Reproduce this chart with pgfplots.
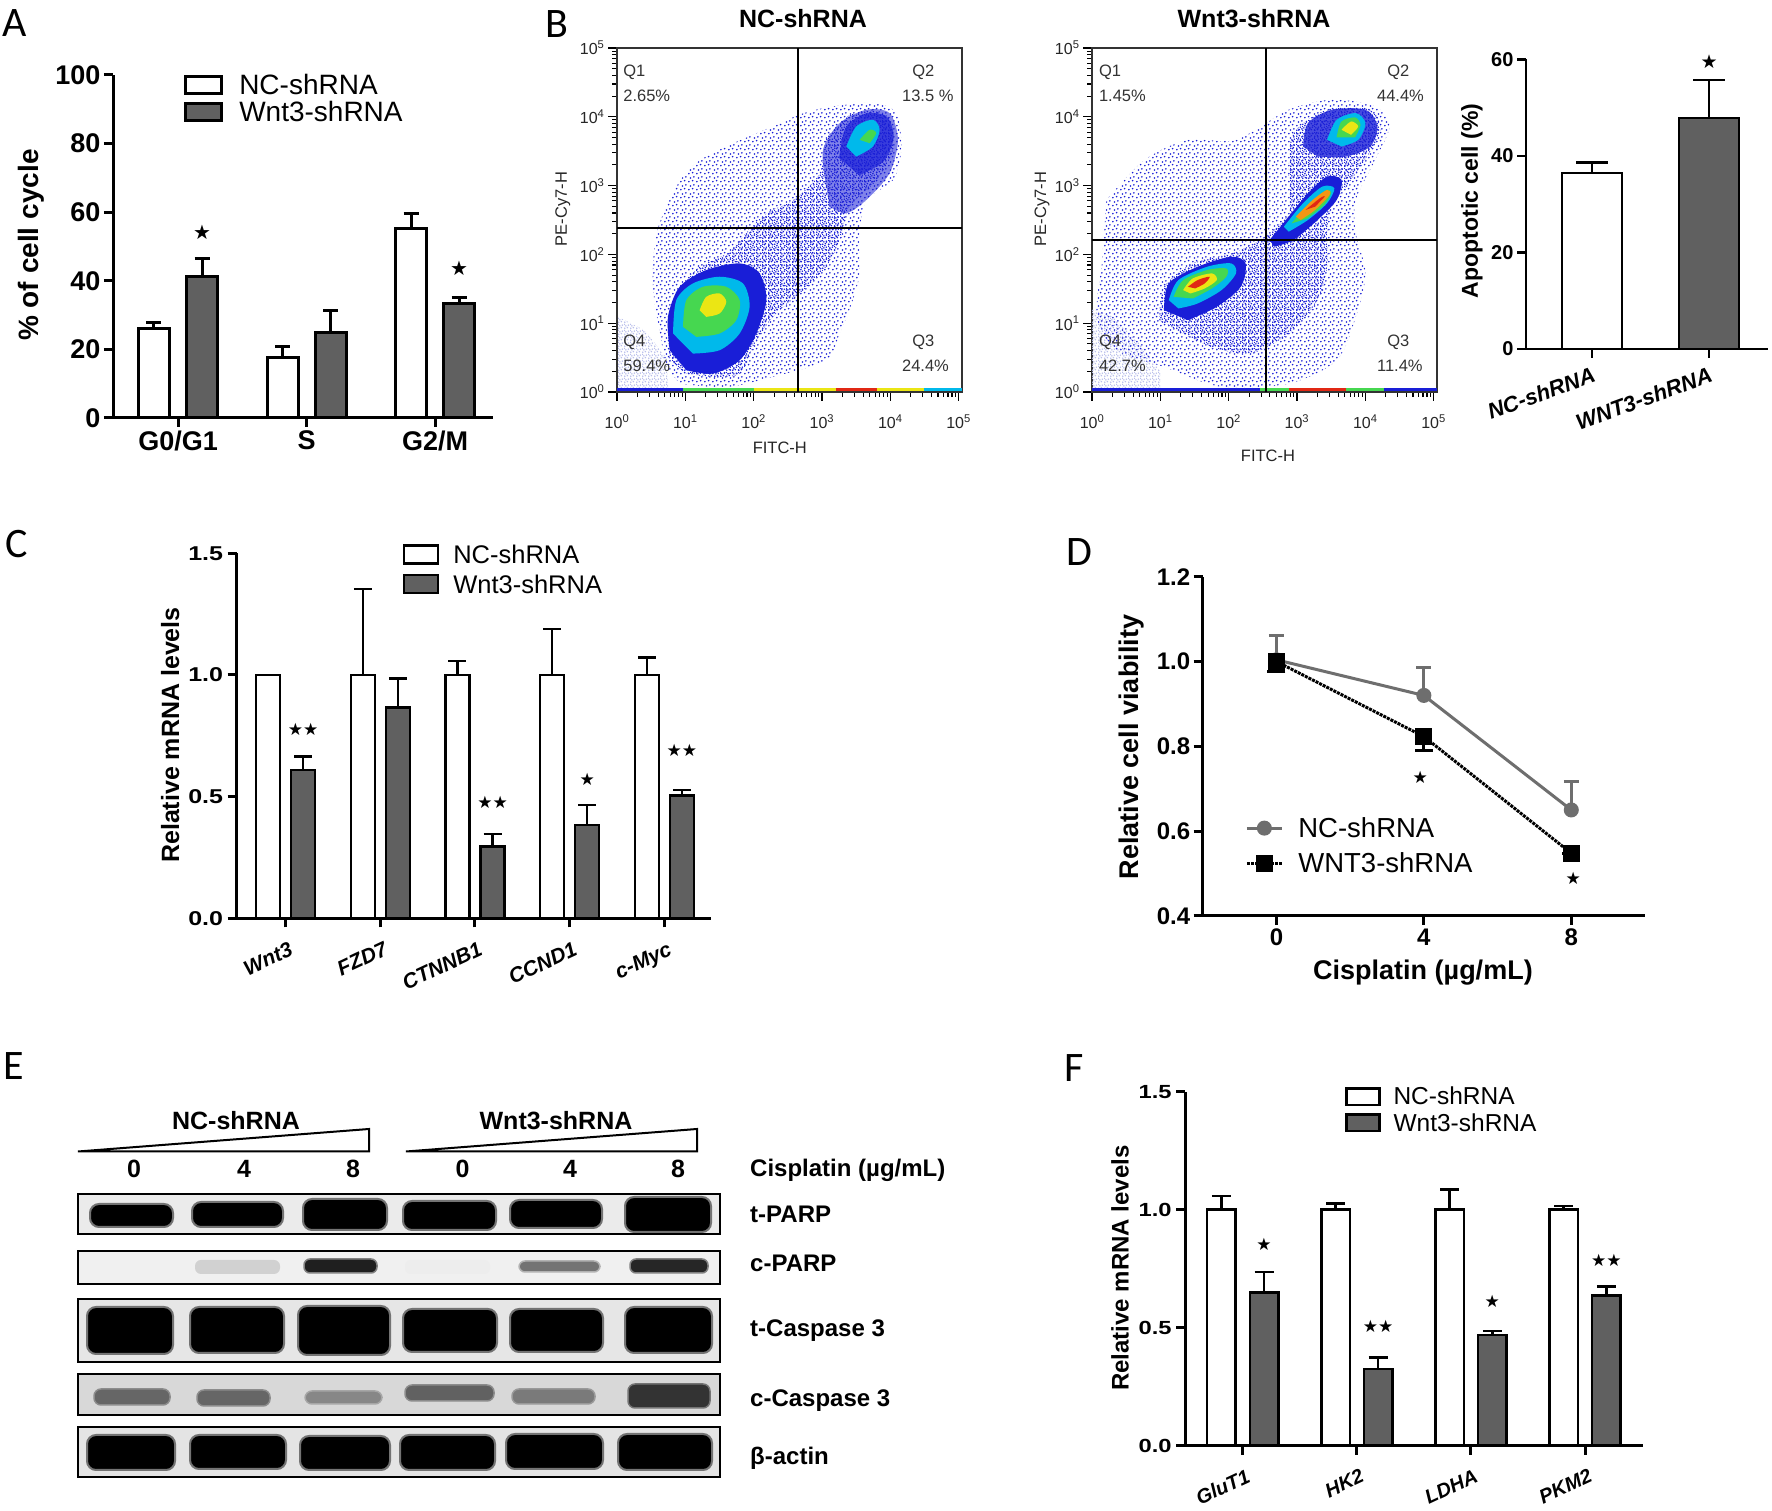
\documentclass[border=0pt]{standalone}
\usepackage{fontspec}
\setmainfont{Liberation Sans}
\newfontfamily\calib{Carlito}
\newfontfamily\djv{DejaVu Sans}
\usepackage{pgfplots}
\pgfplotsset{compat=1.18}
\usetikzlibrary{patterns,patterns.meta}
\newcommand\fs[1]{\fontsize{#1}{#1}\selectfont}
\definecolor{kd}{RGB}{96,96,96}
\definecolor{dgray}{RGB}{110,110,110}
\definecolor{fblue}{RGB}{25,30,215}
\definecolor{fcyan}{RGB}{0,185,235}
\definecolor{fgreen}{RGB}{70,215,80}
\definecolor{fyellow}{RGB}{235,230,20}
\definecolor{fred}{RGB}{225,40,20}
\definecolor{forange}{RGB}{245,150,20}
\definecolor{flav}{RGB}{185,190,235}
\definecolor{bgA}{RGB}{235,235,235}
\definecolor{bgB}{RGB}{240,240,240}
\definecolor{bgC}{RGB}{230,230,230}
\definecolor{bgD}{RGB}{216,216,216}
\definecolor{bgE}{RGB}{228,228,228}
\tikzdeclarepattern{name=scat, type=uncolored,
  bounding box={(0pt,0pt) and (8pt,8pt)}, tile size={(8pt,8pt)},
  code={\fill (1pt,1.5pt) circle (1pt); \fill (5.2pt,2.6pt) circle (1pt);
        \fill (2.8pt,5.6pt) circle (1pt); \fill (6.6pt,6.8pt) circle (1pt);}}
\tikzdeclarepattern{name=scatm, type=uncolored,
  bounding box={(0pt,0pt) and (6pt,6pt)}, tile size={(6pt,6pt)},
  code={\fill (0.9pt,0.9pt) circle (0.95pt); \fill (3.9pt,1.6pt) circle (0.95pt);
        \fill (2.2pt,3.6pt) circle (0.95pt); \fill (5.0pt,4.4pt) circle (0.95pt);
        \fill (0.6pt,5.3pt) circle (0.8pt);}}
\tikzset{qlab/.style={anchor=north west, inner sep=0pt, font=\fs{16.5}, text=black!80}}
\pgfplotsset{
  /pgf/number format/assume math mode=true,
  prism/.style={scale only axis, anchor=south west, axis lines*=left, clip=false,
    axis line style={line width=#1, black},
    tick align=outside, major tick length=9pt,
    every tick/.style={line width=#1, black},
    every axis plot/.append style={line width=#1}},
  errp/.style 2 args={error bars/.cd, y dir=plus, y explicit,
    error bar style={line width=#1, black},
    error mark options={rotate=90, line width=#1, mark size=#2, black}},
  onestar/.style={only marks, mark=text, text mark as node=true, text mark={\djv ★}, text mark style={font=\fs{#1}, inner sep=0pt}},
  twostar/.style={only marks, mark=text, text mark as node=true, text mark={\djv ★★}, text mark style={font=\fs{#1}, inner sep=0pt}},
  flow/.style={scale only axis, anchor=south west, width=345pt, height=344pt,
    xmin=0, xmax=5.05, ymin=0, ymax=5,
    axis line style={line width=1.6pt, black!80},
    tick align=outside, tick pos=left, major tick length=9pt, minor tick length=5pt,
    every tick/.style={black, line width=1.1pt},
    xtick={0,1,2,3,4,5}, ytick={0,1,2,3,4,5},
    xticklabels={10\textsuperscript{0},10\textsuperscript{1},10\textsuperscript{2},10\textsuperscript{3},10\textsuperscript{4},10\textsuperscript{5}},
    yticklabels={10\textsuperscript{0},10\textsuperscript{1},10\textsuperscript{2},10\textsuperscript{3},10\textsuperscript{4},10\textsuperscript{5}},
    minor xtick={0.301,0.477,0.602,0.699,0.778,0.845,0.903,0.954,1.301,1.477,1.602,1.699,1.778,1.845,1.903,1.954,2.301,2.477,2.602,2.699,2.778,2.845,2.903,2.954,3.301,3.477,3.602,3.699,3.778,3.845,3.903,3.954,4.301,4.477,4.602,4.699,4.778,4.845,4.903,4.954},
    minor ytick={0.301,0.477,0.602,0.699,0.778,0.845,0.903,0.954,1.301,1.477,1.602,1.699,1.778,1.845,1.903,1.954,2.301,2.477,2.602,2.699,2.778,2.845,2.903,2.954,3.301,3.477,3.602,3.699,3.778,3.845,3.903,3.954,4.301,4.477,4.602,4.699,4.778,4.845,4.903,4.954},
    tick label style={font=\fs{16}, text=black!85},
    xticklabel style={yshift=-10pt},
    label style={font=\fs{16.5}, text=black!85},
    xlabel={FITC-H}, ylabel={PE-Cy7-H}},
  sparse/.style={draw=none, pattern=scat, pattern color=fblue, smooth},
  medium/.style={draw=none, pattern=scatm, pattern color=fblue, smooth},
  dense/.style={draw=none, fill=#1, smooth},
  band/.style={draw=black!55, line width=2pt, fill=#1, rounded corners=9pt},
}
\begin{document}
\begin{tikzpicture}
\useasboundingbox (0pt,0pt) rectangle (1772pt,1511pt);
\fill[white] (0pt,0pt) rectangle (1772pt,1511pt);

% ---------------- Panel A ----------------
\begin{axis}[prism=3pt, at={(113pt,1093pt)}, width=380pt, height=343pt,
  xmin=-0.506, xmax=2.451, ymin=0, ymax=100,
  xtick={0,1,2}, xticklabels={G0/G1,S,G2/M}, ytick={0,20,40,60,80,100},
  tick label style={font=\fs{27}\bfseries},
  ylabel={\% of cell cycle},
  ylabel style={font=\fs{28}\bfseries, at={(axis description cs:-0.216,0.504)}, anchor=center},
  legend style={at={(axis description cs:0.187,1.009)}, anchor=north west, draw=none, fill=none,
    font=\fs{28}, inner sep=0pt, row sep=1pt}, legend cell align=left]
\addplot[ybar, bar width=31pt, bar shift=0pt, draw=black, fill=white, line width=3pt,
  legend image code/.code={\draw[black, fill=white, line width=3pt] (0pt,-9pt) rectangle (36pt,8pt); \path (50pt,0pt);},
  errp={3pt}{7.5pt}]
  coordinates {(-0.187,26.0) +- (0,1.8) (0.813,17.7) +- (0,3.1) (1.813,55.3) +- (0,4.4)};
\addlegendentry{NC-shRNA}
\addplot[ybar, bar width=31pt, bar shift=0pt, draw=black, fill=kd, line width=3pt,
  legend image code/.code={\draw[black, fill=kd, line width=3pt] (0pt,-9pt) rectangle (36pt,8pt); \path (50pt,0pt);},
  errp={3pt}{7.5pt}]
  coordinates {(0.187,41.2) +- (0,5.2) (1.187,24.9) +- (0,6.3) (2.187,33.4) +- (0,1.7)};
\addlegendentry{Wnt3-shRNA}
\addplot[onestar=20] coordinates {(0.187,54) (2.187,43.5)};
\end{axis}

% ---------------- Panel B: NC flow ----------------
\begin{axis}[flow, at={(617pt,1119pt)},
  xlabel style={at={(axis description cs:0.472,-0.163)}, anchor=center},
  ylabel style={at={(axis description cs:-0.157,0.532)}, anchor=center}]
\addplot[draw=none, pattern=scatm, pattern color=flav] coordinates {(0,0.05) (0,1.1) (0.4,0.9) (0.72,0.5) (0.75,0.05)} --cycle;
\addplot[sparse] coordinates {(0.72,0.36) (0.53,1.48) (0.58,2.31) (0.87,2.99) (1.16,3.33) (1.60,3.57) (2.28,3.86) (2.72,4.05) (3.16,4.15) (3.75,4.20) (4.09,4.05) (4.16,3.52) (4.04,3.08) (3.65,2.79) (3.55,2.31) (3.55,1.72) (3.45,1.33) (3.26,0.85) (3.06,0.46) (2.28,0.22) (1.60,0.07) (0.92,0.12)} --cycle;
\addplot[medium] coordinates {(0.77,0.46) (0.75,1.09) (0.92,1.48) (1.21,1.82) (1.60,2.01) (1.89,2.31) (2.19,2.60) (2.58,2.79) (2.97,3.18) (3.06,3.67) (3.36,4.00) (3.75,4.10) (3.99,3.96) (4.04,3.52) (3.80,3.08) (3.40,2.69) (3.26,2.21) (3.06,1.82) (2.67,1.43) (2.28,1.09) (1.99,0.66) (1.80,0.27) (1.40,0.22) (1.01,0.27)} --cycle;
\addplot[dense=fblue] coordinates {(0.771,0.607) (0.746,1.092) (0.917,1.529) (1.307,1.772) (1.795,1.869) (2.088,1.723) (2.185,1.335) (2.039,0.850) (1.795,0.461) (1.405,0.267) (1.015,0.316)} --cycle;
\addplot[dense=fblue, fill opacity=0.55] coordinates {(3.063,2.985) (3.015,3.519) (3.259,3.908) (3.649,4.102) (3.990,4.053) (4.112,3.665) (3.990,3.180) (3.649,2.791) (3.356,2.597) (3.112,2.694)} --cycle;
\addplot[dense=fblue, fill opacity=0.7] coordinates {(3.25,3.40) (3.35,3.85) (3.65,4.05) (3.95,4.00) (4.05,3.70) (3.90,3.35) (3.55,3.15)} --cycle;
\addplot[dense=fcyan] coordinates {(0.820,0.850) (0.868,1.335) (1.112,1.578) (1.502,1.675) (1.844,1.578) (1.941,1.238) (1.795,0.850) (1.502,0.607) (1.112,0.558)} --cycle;
\addplot[dense=fcyan] coordinates {(3.356,3.568) (3.502,3.859) (3.746,3.956) (3.844,3.811) (3.746,3.568) (3.502,3.422)} --cycle;
\addplot[dense=fgreen] coordinates {(0.966,0.947) (1.015,1.335) (1.259,1.529) (1.600,1.529) (1.795,1.335) (1.746,1.044) (1.502,0.850) (1.161,0.801)} --cycle;
\addplot[dense=fgreen] coordinates {(3.551,3.665) (3.698,3.811) (3.795,3.762) (3.698,3.616)} --cycle;
\addplot[dense=fyellow] coordinates {(1.210,1.189) (1.307,1.383) (1.502,1.432) (1.600,1.311) (1.502,1.141) (1.307,1.092)} --cycle;
\addplot[line width=3pt, fblue] coordinates {(0,0.03) (0.97,0.03)};
\addplot[line width=3pt, fgreen] coordinates {(0.97,0.03) (2.0,0.03)};
\addplot[line width=3pt, fyellow] coordinates {(2.0,0.03) (3.2,0.03)};
\addplot[line width=3pt, fred] coordinates {(3.2,0.03) (3.8,0.03)};
\addplot[line width=3pt, fyellow] coordinates {(3.8,0.03) (4.5,0.03)};
\addplot[line width=3pt, fcyan] coordinates {(4.5,0.03) (5.05,0.03)};
\addplot[black, line width=2pt] coordinates {(2.65,0) (2.65,5)};
\addplot[black, line width=2pt] coordinates {(0,2.38) (5.05,2.38)};
\node[qlab] at (axis cs:0.09,4.75) {Q1};
\node[qlab] at (axis cs:0.09,4.39) {2.65\%};
\node[qlab] at (axis cs:4.32,4.75) {Q2};
\node[qlab] at (axis cs:4.17,4.39) {13.5 \%};
\node[qlab] at (axis cs:0.09,0.83) {Q4};
\node[qlab] at (axis cs:0.09,0.465) {59.4\%};
\node[qlab] at (axis cs:4.32,0.83) {Q3};
\node[qlab] at (axis cs:4.17,0.465) {24.4\%};
\end{axis}

% ---------------- Panel B: Wnt3 flow ----------------
\begin{axis}[flow, at={(1092pt,1119pt)},
  xlabel style={at={(axis description cs:0.51,-0.186)}, anchor=center},
  ylabel style={at={(axis description cs:-0.145,0.532)}, anchor=center}]
\addplot[draw=none, pattern=scatm, pattern color=flav] coordinates {(0,0.05) (0,1.2) (0.3,1.1) (0.7,0.7) (1.0,0.3) (1.0,0.05)} --cycle;
\addplot[sparse] coordinates {(0.211,2.791) (0.772,3.374) (1.404,3.665) (2.107,3.665) (2.879,4.102) (3.511,4.248) (4.143,4.150) (4.354,3.859) (4.143,3.374) (3.862,2.791) (3.862,2.306) (4.003,1.723) (3.862,1.092) (3.581,0.461) (2.879,0.121) (1.896,0.073) (1.053,0.364) (0.351,0.607) (0.070,1.092) (0.140,1.820)} --cycle;
\addplot[medium] coordinates {(0.983,1.044) (1.053,1.529) (1.475,1.869) (2.037,2.015) (2.458,2.209) (2.879,2.597) (2.879,3.180) (2.949,3.762) (3.441,4.102) (4.073,4.102) (4.213,3.762) (3.862,3.180) (3.511,2.694) (3.441,2.306) (3.441,1.820) (3.301,1.335) (2.879,0.850) (2.317,0.558) (1.756,0.655) (1.334,0.850)} --cycle;
\addplot[dense=fblue] coordinates {(1.053,1.189) (1.124,1.578) (1.545,1.820) (2.037,1.966) (2.247,1.869) (2.177,1.529) (1.826,1.238) (1.404,1.044)} --cycle;
\addplot[dense=fblue] coordinates {(2.598,2.209) (2.879,2.549) (3.160,2.888) (3.441,3.131) (3.652,3.083) (3.581,2.791) (3.301,2.500) (2.949,2.209) (2.669,2.112)} --cycle;
\addplot[dense=fblue, fill opacity=0.8] coordinates {(3.090,3.568) (3.160,3.908) (3.511,4.102) (4.003,4.102) (4.178,3.859) (4.073,3.568) (3.722,3.422) (3.301,3.422)} --cycle;
\addplot[dense=fcyan] coordinates {(1.124,1.335) (1.264,1.626) (1.685,1.820) (2.037,1.869) (2.107,1.723) (1.896,1.481) (1.545,1.286) (1.264,1.214)} --cycle;
\addplot[dense=fcyan] coordinates {(2.809,2.403) (3.090,2.743) (3.371,2.985) (3.547,2.961) (3.441,2.743) (3.160,2.500) (2.879,2.330)} --cycle;
\addplot[dense=fcyan] coordinates {(3.441,3.665) (3.581,3.956) (3.862,4.053) (4.003,3.908) (3.897,3.665) (3.652,3.568)} --cycle;
\addplot[dense=fgreen] coordinates {(1.194,1.383) (1.334,1.626) (1.685,1.772) (1.966,1.796) (1.966,1.675) (1.756,1.505) (1.475,1.359)} --cycle;
\addplot[dense=fgreen] coordinates {(2.920,2.450) (3.160,2.720) (3.420,2.930) (3.500,2.900) (3.400,2.720) (3.150,2.520)} --cycle;
\addplot[dense=fgreen] coordinates {(3.580,3.700) (3.650,3.930) (3.850,3.990) (3.930,3.880) (3.850,3.700)} --cycle;
\addplot[dense=fyellow] coordinates {(1.334,1.481) (1.475,1.650) (1.756,1.723) (1.826,1.626) (1.650,1.505) (1.440,1.432)} --cycle;
\addplot[dense=forange] coordinates {(2.984,2.549) (3.230,2.791) (3.441,2.937) (3.477,2.864) (3.266,2.646) (3.055,2.500)} --cycle;
\addplot[dense=fyellow] coordinates {(3.652,3.811) (3.792,3.932) (3.897,3.859) (3.792,3.738)} --cycle;
\addplot[dense=fred] coordinates {(1.404,1.529) (1.545,1.626) (1.721,1.675) (1.650,1.578) (1.510,1.505)} --cycle;
\addplot[dense=fred] coordinates {(3.125,2.646) (3.336,2.816) (3.406,2.840) (3.266,2.694)} --cycle;
\addplot[line width=3pt, fblue] coordinates {(0,0.03) (2.46,0.03)};
\addplot[line width=3pt, fgreen] coordinates {(2.46,0.03) (2.88,0.03)};
\addplot[line width=3pt, fred] coordinates {(2.88,0.03) (3.72,0.03)};
\addplot[line width=3pt, fgreen] coordinates {(3.72,0.03) (4.28,0.03)};
\addplot[line width=3pt, fblue] coordinates {(4.28,0.03) (5.05,0.03)};
\addplot[black, line width=2pt] coordinates {(2.54,0) (2.54,5)};
\addplot[black, line width=2pt] coordinates {(0,2.21) (5.05,2.21)};
\node[qlab] at (axis cs:0.10,4.75) {Q1};
\node[qlab] at (axis cs:0.10,4.39) {1.45\%};
\node[qlab] at (axis cs:4.32,4.75) {Q2};
\node[qlab] at (axis cs:4.17,4.39) {44.4\%};
\node[qlab] at (axis cs:0.10,0.83) {Q4};
\node[qlab] at (axis cs:0.10,0.465) {42.7\%};
\node[qlab] at (axis cs:4.32,0.83) {Q3};
\node[qlab] at (axis cs:4.17,0.465) {11.4\%};
\end{axis}

% ---------------- Panel B: apoptotic bars ----------------
\begin{axis}[prism=2.5pt, at={(1526pt,1162pt)}, width=242pt, height=289.7pt,
  xmin=-0.564, xmax=1.504, ymin=0, ymax=60, ytick={0,20,40,60},
  xtick={0,1}, xticklabels={NC-shRNA,WNT3-shRNA},
  yticklabel style={font=\fs{20}\bfseries},
  xticklabel style={font=\fs{22}\bfseries\itshape, rotate=20, anchor=north east, yshift=-4pt},
  ylabel={Apoptotic cell (\%)},
  ylabel style={font=\fs{23}\bfseries, at={(axis description cs:-0.223,0.511)}, anchor=center}]
\addplot[ybar, bar width=60pt, bar shift=0pt, draw=black, fill=white, line width=2.5pt, errp={2.5pt}{16pt}]
  coordinates {(0,36.4) +- (0,2.2)};
\addplot[ybar, bar width=60pt, bar shift=0pt, draw=black, fill=kd, line width=2.5pt, errp={2.5pt}{16pt}]
  coordinates {(1,47.8) +- (0,7.9)};
\addplot[onestar=19] coordinates {(1,59.6)};
\end{axis}

% ---------------- Panel C ----------------
\begin{axis}[prism=3pt, at={(236.5pt,592.7pt)}, width=474.5pt, height=365pt,
  xmin=-0.518, xmax=4.492, ymin=0, ymax=1.5, ytick={0,0.5,1,1.5},
  yticklabel style={/pgf/number format/fixed, /pgf/number format/fixed zerofill, /pgf/number format/precision=1, font=\fs{20}\bfseries, xscale=1.25},
  xtick={0,1,2,3,4}, xticklabels={Wnt3,FZD7,CTNNB1,CCND1,c-Myc},
  xticklabel style={font=\fs{21}\bfseries\itshape, rotate=25, anchor=north east, yshift=-10pt},
  ylabel={Relative mRNA levels},
  ylabel style={font=\fs{25}\bfseries, at={(axis description cs:-0.140,0.502)}, anchor=center},
  legend style={at={(axis description cs:0.35,1.028)}, anchor=north west, draw=none, fill=none,
    font=\fs{25.5}, inner sep=0pt, row sep=6pt}, legend cell align=left]
\addplot[ybar, bar width=24pt, bar shift=0pt, draw=black, fill=white, line width=2.5pt,
  legend image code/.code={\draw[black, fill=white, line width=2.5pt] (0pt,-8pt) rectangle (34pt,10pt); \path (46pt,0pt);},
  errp={2.5pt}{9pt}]
  coordinates {(-0.185,1.0) +- (0,0) (0.815,1.0) +- (0,0.353) (1.815,1.0) +- (0,0.058) (2.815,1.0) +- (0,0.188) (3.815,1.0) +- (0,0.071)};
\addlegendentry{NC-shRNA}
\addplot[ybar, bar width=24pt, bar shift=0pt, draw=black, fill=kd, line width=2.5pt,
  legend image code/.code={\draw[black, fill=kd, line width=2.5pt] (0pt,-8pt) rectangle (34pt,10pt); \path (46pt,0pt);},
  errp={2.5pt}{9pt}]
  coordinates {(0.185,0.61) +- (0,0.054) (1.185,0.867) +- (0,0.118) (2.185,0.294) +- (0,0.052) (3.185,0.383) +- (0,0.083) (4.185,0.504) +- (0,0.023)};
\addlegendentry{Wnt3-shRNA}
\addplot[twostar=17] coordinates {(0.185,0.777) (2.185,0.475) (4.185,0.689)};
\addplot[onestar=17] coordinates {(3.185,0.571)};
\end{axis}

% ---------------- Panel D ----------------
\begin{axis}[prism=3pt, at={(1202.7pt,595pt)}, width=442.3pt, height=339.3pt,
  xmin=-2, xmax=10, ymin=0.4, ymax=1.2, xtick={0,4,8}, ytick={0.4,0.6,0.8,1.0,1.2},
  yticklabel style={/pgf/number format/fixed, /pgf/number format/fixed zerofill, /pgf/number format/precision=1},
  tick label style={font=\fs{24}\bfseries},
  xlabel={Cisplatin (µg/mL)},
  xlabel style={font=\fs{27}\bfseries, at={(axis description cs:0.498,-0.168)}, anchor=center},
  ylabel={Relative cell viability},
  ylabel style={font=\fs{27}\bfseries, at={(axis description cs:-0.162,0.498)}, anchor=center},
  legend image code/.code={\draw[mark repeat=2, mark phase=2, #1] plot coordinates {(0pt,0pt) (17.5pt,0pt) (35pt,0pt)}; \path (48pt,0pt);},
  legend style={at={(axis description cs:0.096,0.297)}, anchor=north west, draw=none, fill=none,
    font=\fs{27.5}, inner sep=0pt, row sep=9.5pt}, legend cell align=left]
\addplot[color=dgray, line width=3pt, mark=*, mark size=6pt, mark options={solid, fill=dgray},
  error bars/.cd, y dir=plus, y explicit, error bar style={line width=3pt, dgray},
  error mark options={rotate=90, line width=3pt, mark size=7.5pt, dgray}]
  coordinates {(0,1.004) +- (0,0.057) (4,0.92) +- (0,0.067) (8,0.65) +- (0,0.067)};
\addlegendentry{NC-shRNA}
\addplot[color=black, line width=3pt, densely dotted, mark=square*, mark size=7pt, mark options={solid, fill=black},
  error bars/.cd, y dir=minus, y explicit, error bar style={line width=3pt, black, solid},
  error mark options={rotate=90, line width=3pt, mark size=9pt, black, solid}]
  coordinates {(0,1.0) +- (0,0.024) (4,0.823) +- (0,0.032) (8,0.548) +- (0,0.0)};
\addlegendentry{WNT3-shRNA}
\addplot[onestar=17] coordinates {(3.9,0.727) (8.05,0.489)};
\end{axis}

% ---------------- Panel E (western blot) ----------------
\begin{axis}[hide axis, scale only axis, anchor=south west, at={(78pt,34pt)}, width=642pt, height=283pt,
  xmin=78, xmax=720, ymin=1194, ymax=1477, y dir=reverse, clip=false]
\addplot[draw=black, line width=2pt, fill=white] coordinates {(78,1151.5) (369,1129) (369,1151.5)} --cycle;
\addplot[draw=black, line width=2pt, fill=white] coordinates {(406,1151.5) (697,1129) (697,1151.5)} --cycle;
\addplot[draw=black, line width=2.5pt, fill=bgA] coordinates {(78,1194) (720,1194) (720,1234) (78,1234)} --cycle;
\addplot[draw=black, line width=2.5pt, fill=bgB] coordinates {(78,1251) (720,1251) (720,1284) (78,1284)} --cycle;
\addplot[draw=black, line width=2.5pt, fill=bgC] coordinates {(78,1299) (720,1299) (720,1362) (78,1362)} --cycle;
\addplot[draw=black, line width=2.5pt, fill=bgD] coordinates {(78,1374) (720,1374) (720,1415) (78,1415)} --cycle;
\addplot[draw=black, line width=2.5pt, fill=bgE] coordinates {(78,1427) (720,1427) (720,1477) (78,1477)} --cycle;
\addplot[band=black] coordinates {(90,1204) (173,1204) (173,1227) (90,1227)} --cycle;
\addplot[band=black] coordinates {(192,1202) (283,1202) (283,1227) (192,1227)} --cycle;
\addplot[band=black] coordinates {(303,1199) (387,1199) (387,1230) (303,1230)} --cycle;
\addplot[band=black] coordinates {(403,1201) (496,1201) (496,1230) (403,1230)} --cycle;
\addplot[band=black] coordinates {(510,1200) (602,1200) (602,1228) (510,1228)} --cycle;
\addplot[band=black] coordinates {(625,1197) (711,1197) (711,1232) (625,1232)} --cycle;
\addplot[draw=none, fill=black!6, rounded corners=6pt] coordinates {(95,1260) (170,1260) (170,1274) (95,1274)} --cycle;
\addplot[draw=none, fill=black!18, rounded corners=6pt] coordinates {(195,1260) (280,1260) (280,1274) (195,1274)} --cycle;
\addplot[draw=black!50, line width=1.5pt, fill=black!88, rounded corners=6pt] coordinates {(304,1259) (377,1259) (377,1273) (304,1273)} --cycle;
\addplot[draw=none, fill=black!7, rounded corners=6pt] coordinates {(405,1260) (490,1260) (490,1274) (405,1274)} --cycle;
\addplot[draw=black!30, line width=1.5pt, fill=black!55, rounded corners=6pt] coordinates {(519,1261) (600,1261) (600,1272) (519,1272)} --cycle;
\addplot[draw=black!50, line width=1.5pt, fill=black!85, rounded corners=6pt] coordinates {(630,1259) (708,1259) (708,1273) (630,1273)} --cycle;
\addplot[band=black] coordinates {(87,1307) (173,1307) (173,1354) (87,1354)} --cycle;
\addplot[band=black] coordinates {(190,1307) (284,1307) (284,1353) (190,1353)} --cycle;
\addplot[band=black] coordinates {(298,1306) (390,1306) (390,1355) (298,1355)} --cycle;
\addplot[band=black] coordinates {(403,1309) (497,1309) (497,1352) (403,1352)} --cycle;
\addplot[band=black] coordinates {(510,1309) (603,1309) (603,1352) (510,1352)} --cycle;
\addplot[band=black] coordinates {(625,1307) (712,1307) (712,1353) (625,1353)} --cycle;
\addplot[draw=black!45, line width=1.5pt, fill=black!60, rounded corners=7pt] coordinates {(94,1389) (170,1389) (170,1405) (94,1405)} --cycle;
\addplot[draw=black!45, line width=1.5pt, fill=black!60, rounded corners=7pt] coordinates {(197,1390) (270,1390) (270,1406) (197,1406)} --cycle;
\addplot[draw=black!35, line width=1.5pt, fill=black!47, rounded corners=7pt] coordinates {(305,1391) (382,1391) (382,1404) (305,1404)} --cycle;
\addplot[draw=black!45, line width=1.5pt, fill=black!62, rounded corners=7pt] coordinates {(405,1385) (494,1385) (494,1401) (405,1401)} --cycle;
\addplot[draw=black!40, line width=1.5pt, fill=black!52, rounded corners=7pt] coordinates {(512,1389) (595,1389) (595,1404) (512,1404)} --cycle;
\addplot[draw=black!55, line width=1.5pt, fill=black!80, rounded corners=7pt] coordinates {(628,1384) (710,1384) (710,1408) (628,1408)} --cycle;
\addplot[band=black] coordinates {(87,1435) (175,1435) (175,1470) (87,1470)} --cycle;
\addplot[band=black] coordinates {(190,1435) (286,1435) (286,1469) (190,1469)} --cycle;
\addplot[band=black] coordinates {(300,1436) (390,1436) (390,1470) (300,1470)} --cycle;
\addplot[band=black] coordinates {(400,1435) (495,1435) (495,1470) (400,1470)} --cycle;
\addplot[band=black] coordinates {(506,1434) (603,1434) (603,1469) (506,1469)} --cycle;
\addplot[band=black] coordinates {(618,1434) (712,1434) (712,1470) (618,1470)} --cycle;
\end{axis}

% ---------------- Panel F ----------------
\begin{axis}[prism=3pt, at={(1185pt,65.3pt)}, width=458pt, height=354pt,
  xmin=-0.506, xmax=3.508, ymin=0, ymax=1.5, ytick={0,0.5,1,1.5},
  yticklabel style={/pgf/number format/fixed, /pgf/number format/fixed zerofill, /pgf/number format/precision=1, font=\fs{19}\bfseries, xscale=1.25},
  xtick={0,1,2,3}, xticklabels={GluT1,HK2,LDHA,PKM2},
  xticklabel style={font=\fs{20}\bfseries\itshape, rotate=25, anchor=north east, yshift=-10pt},
  ylabel={Relative mRNA levels},
  ylabel style={font=\fs{24}\bfseries, at={(axis description cs:-0.142,0.502)}, anchor=center},
  legend style={at={(axis description cs:0.349,1.019)}, anchor=north west, draw=none, fill=none,
    font=\fs{24.5}, inner sep=0pt, row sep=3pt}, legend cell align=left]
\addplot[ybar, bar width=28.5pt, bar shift=0pt, draw=black, fill=white, line width=2.5pt,
  legend image code/.code={\draw[black, fill=white, line width=2.5pt] (0pt,-8pt) rectangle (33pt,8.5pt); \path (44pt,0pt);},
  errp={2.5pt}{9.5pt}]
  coordinates {(-0.187,1.0) +- (0,0.058) (0.813,1.0) +- (0,0.027) (1.813,1.0) +- (0,0.086) (2.813,1.0) +- (0,0.016)};
\addlegendentry{NC-shRNA}
\addplot[ybar, bar width=28.5pt, bar shift=0pt, draw=black, fill=kd, line width=2.5pt,
  legend image code/.code={\draw[black, fill=kd, line width=2.5pt] (0pt,-8pt) rectangle (33pt,8.5pt); \path (44pt,0pt);},
  errp={2.5pt}{9.5pt}]
  coordinates {(0.187,0.65) +- (0,0.087) (1.187,0.325) +- (0,0.049) (2.187,0.469) +- (0,0.017) (3.187,0.637) +- (0,0.037)};
\addlegendentry{Wnt3-shRNA}
\addplot[onestar=17] coordinates {(0.187,0.855) (2.187,0.613)};
\addplot[twostar=17] coordinates {(1.187,0.507) (3.187,0.784)};
\end{axis}

% ---------------- texts ----------------
\node[anchor=base west, inner sep=0pt, font=\calib\fs{42}] at (2pt,1474pt) {A};
\node[anchor=base west, inner sep=0pt, font=\calib\fs{42}] at (545pt,1473pt) {B};
\node[anchor=base west, inner sep=0pt, font=\calib\fs{42}] at (5pt,953pt) {C};
\node[anchor=base west, inner sep=0pt, font=\calib\fs{42}] at (1066pt,945pt) {D};
\node[anchor=base west, inner sep=0pt, font=\calib\fs{42}] at (3pt,431pt) {E};
\node[anchor=base west, inner sep=0pt, font=\calib\fs{42}] at (1064pt,429pt) {F};
\node[anchor=base, inner sep=0pt, font=\fs{25}\bfseries] at (803pt,1483pt) {NC-shRNA};
\node[anchor=base, inner sep=0pt, font=\fs{25}\bfseries] at (1254pt,1483pt) {Wnt3-shRNA};
\node[anchor=base, inner sep=0pt, font=\fs{25}\bfseries] at (236pt,381pt) {NC-shRNA};
\node[anchor=base, inner sep=0pt, font=\fs{25}\bfseries] at (556pt,381pt) {Wnt3-shRNA};
\foreach \xx/\tt in {134/0,244/4,353/8,462.5/0,570/4,678/8}
  \node[anchor=base, inner sep=0pt, font=\fs{25}\bfseries] at (\xx pt,333pt) {\tt};
\node[anchor=base west, inner sep=0pt, font=\fs{24}\bfseries] at (750pt,334pt) {Cisplatin (µg/mL)};
\node[anchor=base west, inner sep=0pt, font=\fs{24}\bfseries] at (750pt,288pt) {t-PARP};
\node[anchor=base west, inner sep=0pt, font=\fs{24}\bfseries] at (750pt,239pt) {c-PARP};
\node[anchor=base west, inner sep=0pt, font=\fs{24}\bfseries] at (750pt,174pt) {t-Caspase 3};
\node[anchor=base west, inner sep=0pt, font=\fs{24}\bfseries] at (750pt,104pt) {c-Caspase 3};
\node[anchor=base west, inner sep=0pt, font=\fs{24}\bfseries] at (750pt,46pt) {β-actin};
\end{tikzpicture}
\end{document}
